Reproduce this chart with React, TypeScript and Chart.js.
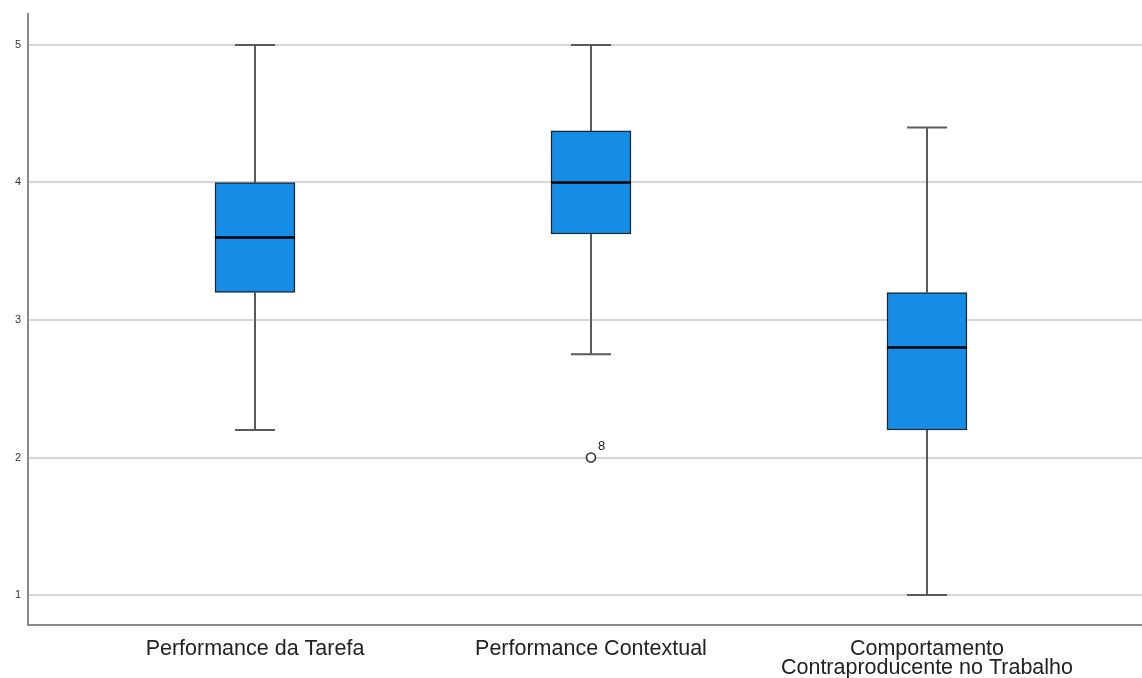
import React, { useEffect, useRef } from "react";
import { Chart, registerables } from "chart.js";

Chart.register(...registerables);

const categories: (string | string[])[] = [
  "Performance da Tarefa",
  "Performance Contextual",
  ["Comportamento", "Contraproducente no Trabalho"],
];
const whiskerLow = [2.2, 2.75, 1.0];
const q1 = [3.2, 3.625, 2.2];
const median = [3.6, 4.0, 2.8];
const q3 = [4.0, 4.375, 3.2];
const whiskerHigh = [5.0, 5.0, 4.4];
const outliers = [{ cat: 1, value: 2.0, label: "8" }];
const yTicks = [1, 2, 3, 4, 5];

const boxPlugin = {
  id: "boxParts",
  beforeDatasetsDraw(chart: any) {
    const { ctx, scales } = chart;
    const x = scales.x, y = scales.y;
    ctx.save();
    ctx.strokeStyle = "#5a5a5a";
    ctx.lineWidth = 2;
    for (let i = 0; i < categories.length; i++) {
      const cx = Math.round(x.getPixelForValue(i));
      const lo = y.getPixelForValue(whiskerLow[i]);
      const hi = y.getPixelForValue(whiskerHigh[i]);
      const b1 = y.getPixelForValue(q1[i]);
      const b3 = y.getPixelForValue(q3[i]);
      ctx.beginPath();
      ctx.moveTo(cx, hi);
      ctx.lineTo(cx, b3);
      ctx.moveTo(cx, b1);
      ctx.lineTo(cx, lo);
      ctx.moveTo(cx - 20, hi);
      ctx.lineTo(cx + 20, hi);
      ctx.moveTo(cx - 20, lo);
      ctx.lineTo(cx + 20, lo);
      ctx.stroke();
    }
    ctx.restore();
  },
  afterDatasetsDraw(chart: any) {
    const { ctx, scales } = chart;
    const x = scales.x, y = scales.y;
    ctx.save();
    ctx.strokeStyle = "#000000";
    ctx.lineWidth = 2.5;
    for (let i = 0; i < categories.length; i++) {
      const cx = x.getPixelForValue(i);
      const my = y.getPixelForValue(median[i]);
      ctx.beginPath();
      ctx.moveTo(cx - 40, my);
      ctx.lineTo(cx + 40, my);
      ctx.stroke();
    }
    ctx.fillStyle = "#222";
    ctx.font = "13px 'Liberation Sans', Arial, sans-serif";
    ctx.textAlign = "left";
    ctx.textBaseline = "middle";
    for (const o of outliers) {
      const px = x.getPixelForValue(o.cat);
      const py = y.getPixelForValue(o.value);
      ctx.beginPath();
      ctx.arc(px, py, 4.5, 0, Math.PI * 2);
      ctx.fillStyle = "#ffffff";
      ctx.fill();
      ctx.lineWidth = 1.6;
      ctx.strokeStyle = "#333333";
      ctx.stroke();
      ctx.fillStyle = "#222";
      ctx.fillText(o.label, px + 7, py - 11);
    }
    ctx.restore();
  },
};

export default function App() {
  const ref = useRef<HTMLCanvasElement | null>(null);
  useEffect(() => {
    if (!ref.current) return;
    const chart = new Chart(ref.current, {
      type: "bar",
      data: {
        datasets: [
          {
            type: "bar",
            data: categories.map((_, i) => ({ x: i, y: [q1[i], q3[i]] })) as any,
            backgroundColor: "#158ce6",
            borderColor: "#1b2733",
            borderWidth: 1.5,
            borderSkipped: false,
            barThickness: 80,
          } as any,
        ],
      },
      options: {
        animation: false,
        responsive: true,
        maintainAspectRatio: false,
        layout: { padding: { top: 14, right: 0, left: 0, bottom: 0 } },
        plugins: { legend: { display: false }, tooltip: { enabled: false } },
        scales: {
          x: {
            type: "linear",
            offset: false,
            min: -0.6756,
            max: 2.64,
            grid: { display: false, drawTicks: false, offset: false },
            border: { display: true, color: "#8a8a8a", width: 2 },
            afterBuildTicks: (s: any) => {
              s.ticks = categories.map((_, i) => ({ value: i }));
            },
            afterFit: (s: any) => {
              s.height = 53;
              s.paddingLeft = 0;
              s.paddingRight = 0;
            },
            ticks: {
              padding: 14.5,
              color: "#222",
              font: { family: "'Liberation Sans', Arial, sans-serif", size: 21.5, lineHeight: "19px" },
              callback: (v: any) => categories[v as number] as any,
              maxRotation: 0,
              autoSkip: false,
            },
          },
          y: {
            type: "linear",
            min: 0.782,
            max: 5.225,
            grid: { color: "#d6d6d6", lineWidth: 2, drawTicks: false },
            border: { display: true, color: "#8a8a8a", width: 2 },
            afterBuildTicks: (s: any) => {
              s.ticks = yTicks.map((v) => ({ value: v }));
            },
            afterFit: (s: any) => {
              s.width = 28;
            },
            ticks: {
              padding: 7,
              color: "#333",
              font: { family: "'Liberation Sans', Arial, sans-serif", size: 11 },
            },
          },
        },
      } as any,
      plugins: [boxPlugin],
    });
    return () => chart.destroy();
  }, []);
  return (
    <div style={{ position: "fixed", left: 0, top: 0, width: 1142, height: 678, background: "#fff" }}>
      <canvas ref={ref} />
    </div>
  );
}
